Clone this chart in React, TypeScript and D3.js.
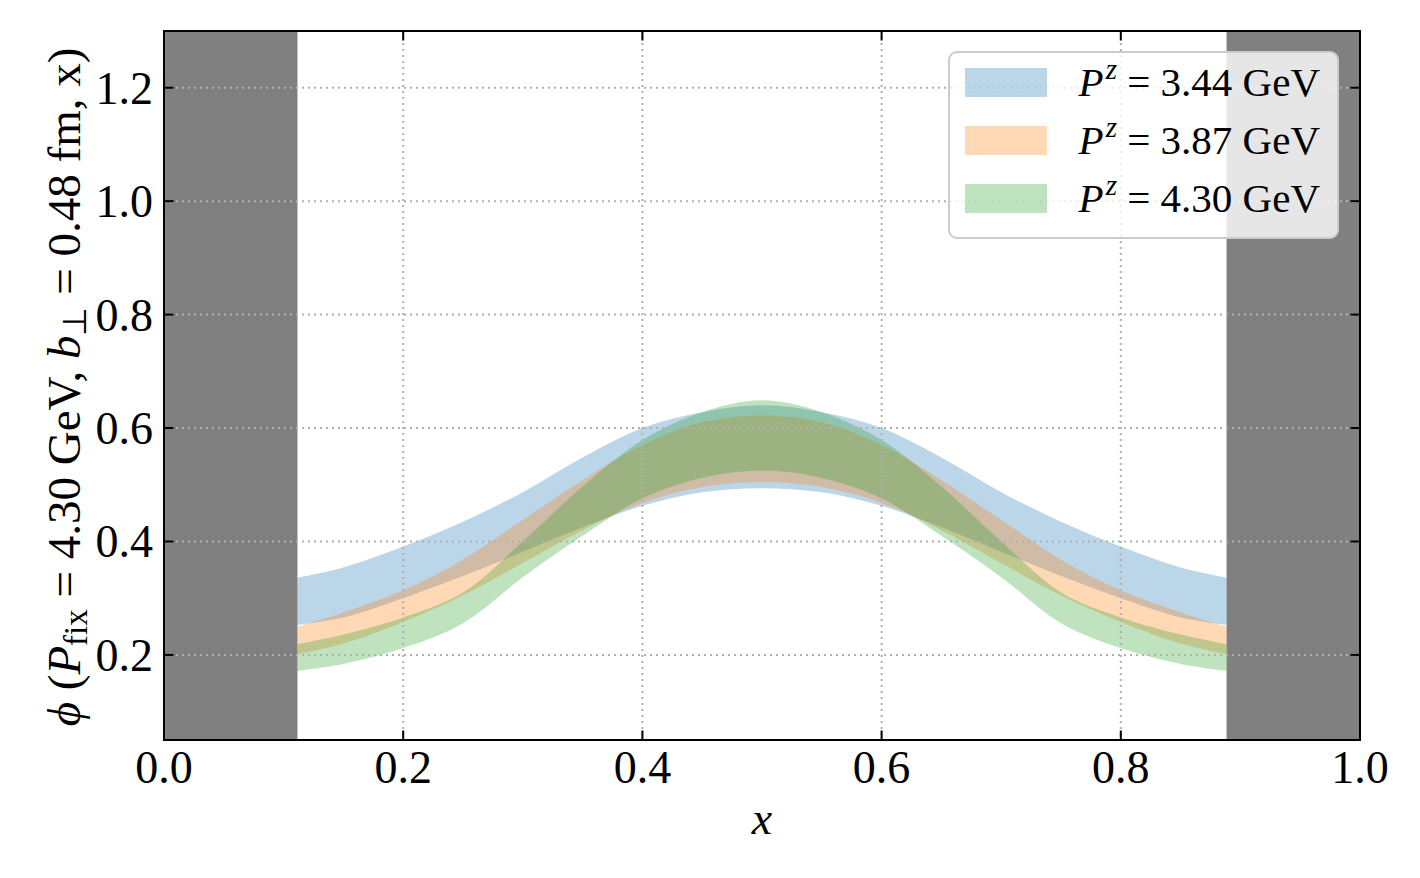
import React from "react";
import * as d3 from "d3";

const xs = [0.1116, 0.15, 0.2, 0.25, 0.3, 0.35, 0.4, 0.45, 0.5, 0.55, 0.6, 0.65, 0.7, 0.75, 0.8, 0.85, 0.8884];

// P^z = 3.44 GeV
const blueUpper = [0.336, 0.354, 0.391, 0.435, 0.487, 0.548, 0.6, 0.628, 0.64, 0.628, 0.6, 0.548, 0.487, 0.435, 0.391, 0.354, 0.336];
const blueLower = [0.253, 0.266, 0.3, 0.339, 0.382, 0.425, 0.463, 0.487, 0.494, 0.487, 0.463, 0.425, 0.382, 0.339, 0.3, 0.266, 0.253];
// P^z = 3.87 GeV
const orangeUpper = [0.25, 0.275, 0.314, 0.368, 0.438, 0.508, 0.57, 0.61, 0.622, 0.61, 0.57, 0.508, 0.438, 0.368, 0.314, 0.275, 0.25];
const orangeLower = [0.201, 0.22, 0.258, 0.305, 0.362, 0.42, 0.468, 0.496, 0.505, 0.496, 0.468, 0.42, 0.362, 0.305, 0.258, 0.22, 0.201];
// P^z = 4.30 GeV
const greenUpper = [0.219, 0.236, 0.266, 0.31, 0.4, 0.497, 0.579, 0.628, 0.649, 0.628, 0.579, 0.497, 0.4, 0.31, 0.266, 0.236, 0.219];
const greenLower = [0.172, 0.184, 0.212, 0.256, 0.337, 0.41, 0.476, 0.512, 0.525, 0.512, 0.476, 0.41, 0.337, 0.256, 0.212, 0.184, 0.172];

const seriesLabels = ["3.44", "3.87", "4.30"];
const seriesColors = ["#1f77b4", "#ff7f0e", "#2ca02c"];

// excluded end regions
const cutLow = 0.1116;
const cutHigh = 0.8884;

const xTicks = [0, 0.2, 0.4, 0.6, 0.8, 1.0];
const yTicks = [0.2, 0.4, 0.6, 0.8, 1.0, 1.2];

const W = 1420;
const H = 878;
const plot = { left: 164, right: 1360, top: 31, bottom: 740 };
const font = "'Liberation Serif', 'Times New Roman', serif";

export default function App() {
  const x = d3.scaleLinear().domain([0, 1]).range([plot.left, plot.right]);
  const y = d3.scaleLinear().domain([0.05, 1.3]).range([plot.bottom, plot.top]);

  const bands = [
    { lo: blueLower, hi: blueUpper },
    { lo: orangeLower, hi: orangeUpper },
    { lo: greenLower, hi: greenUpper },
  ];

  const idx = xs.map((_, i) => i);
  const bandPath = (lo: number[], hi: number[]) =>
    d3
      .area<number>()
      .x((i) => x(xs[i]))
      .y0((i) => y(lo[i]))
      .y1((i) => y(hi[i]))
      .curve(d3.curveCatmullRom.alpha(0.5))(idx) || "";

  const tickLen = 9.5;

  return (
    <div style={{ position: "absolute", left: 0, top: 0 }}>
      <svg width={W} height={H} style={{ display: "block", background: "#fff" }} fontFamily={font}>
        <rect x={0} y={0} width={W} height={H} fill="#fff" />
        {/* grey excluded regions */}
        <rect x={x(0)} y={plot.top} width={x(cutLow) - x(0)} height={plot.bottom - plot.top} fill="#808080" />
        <rect x={x(cutHigh)} y={plot.top} width={x(1) - x(cutHigh)} height={plot.bottom - plot.top} fill="#808080" />

        {/* bands */}
        {bands.map((b, k) => (
          <path key={k} d={bandPath(b.lo, b.hi)} fill={seriesColors[k]} fillOpacity={0.3} />
        ))}

        {/* grid */}
        <g stroke="#b0b0b0" strokeWidth={2} strokeDasharray="2,4">
          {xTicks.map((t) => (
            <line key={"gx" + t} x1={x(t)} x2={x(t)} y1={plot.top} y2={plot.bottom} />
          ))}
          {yTicks.map((t) => (
            <line key={"gy" + t} x1={plot.left} x2={plot.right} y1={y(t)} y2={y(t)} />
          ))}
        </g>

        {/* ticks, all four sides, pointing in */}
        <g stroke="#000" strokeWidth={2}>
          {xTicks.map((t) => (
            <g key={"tx" + t}>
              <line x1={x(t)} x2={x(t)} y1={plot.bottom} y2={plot.bottom - tickLen} />
              <line x1={x(t)} x2={x(t)} y1={plot.top} y2={plot.top + tickLen} />
            </g>
          ))}
          {yTicks.map((t) => (
            <g key={"ty" + t}>
              <line x1={plot.left} x2={plot.left + tickLen} y1={y(t)} y2={y(t)} />
              <line x1={plot.right} x2={plot.right - tickLen} y1={y(t)} y2={y(t)} />
            </g>
          ))}
        </g>
        <rect
          x={plot.left}
          y={plot.top}
          width={plot.right - plot.left}
          height={plot.bottom - plot.top}
          fill="none"
          stroke="#000"
          strokeWidth={2}
        />

        {/* tick labels */}
        <g fontSize={46} fill="#000">
          {xTicks.map((t) => (
            <text key={"lx" + t} x={x(t)} y={783} textAnchor="middle">
              {t.toFixed(1)}
            </text>
          ))}
          {yTicks.map((t) => (
            <text key={"ly" + t} x={153} y={y(t) + 16} textAnchor="end">
              {t.toFixed(1)}
            </text>
          ))}
        </g>

        {/* axis labels */}
        <text x={x(0.5)} y={834} fontSize={46} fontStyle="italic" textAnchor="middle">
          x
        </text>
        <text transform={`translate(80,387) rotate(-90)`} fontSize={47} textAnchor="middle">
          <tspan fontStyle="italic">ϕ</tspan>
          <tspan> (</tspan>
          <tspan fontStyle="italic">P</tspan>
          <tspan fontSize={33} dy={7}>fix</tspan>
          <tspan dy={-7}>{" = 4.30 GeV, "}</tspan>
          <tspan fontStyle="italic">b</tspan>
          <tspan fontSize={33} dy={6}>⊥</tspan>
          <tspan dy={-6}>{" = 0.48 fm, x)"}</tspan>
        </text>

        {/* legend */}
        <g>
          <rect x={949} y={52} width={389} height={186} rx={8} fill="#fff" fillOpacity={0.8} stroke="#cccccc" strokeWidth={2} />
          {seriesLabels.map((lab, k) => (
            <g key={lab} transform={`translate(0, ${k * 58})`}>
              <rect x={965} y={68} width={82} height={29} fill={seriesColors[k]} fillOpacity={0.3} />
              <text x={1320} y={96} fontSize={41} textAnchor="end">
                <tspan fontStyle="italic">P</tspan>
                <tspan fontStyle="italic" fontSize={29} dx={2} dy={-17}>z</tspan>
                <tspan dy={17}>{" = " + lab + " GeV"}</tspan>
              </text>
            </g>
          ))}
        </g>
      </svg>
    </div>
  );
}
